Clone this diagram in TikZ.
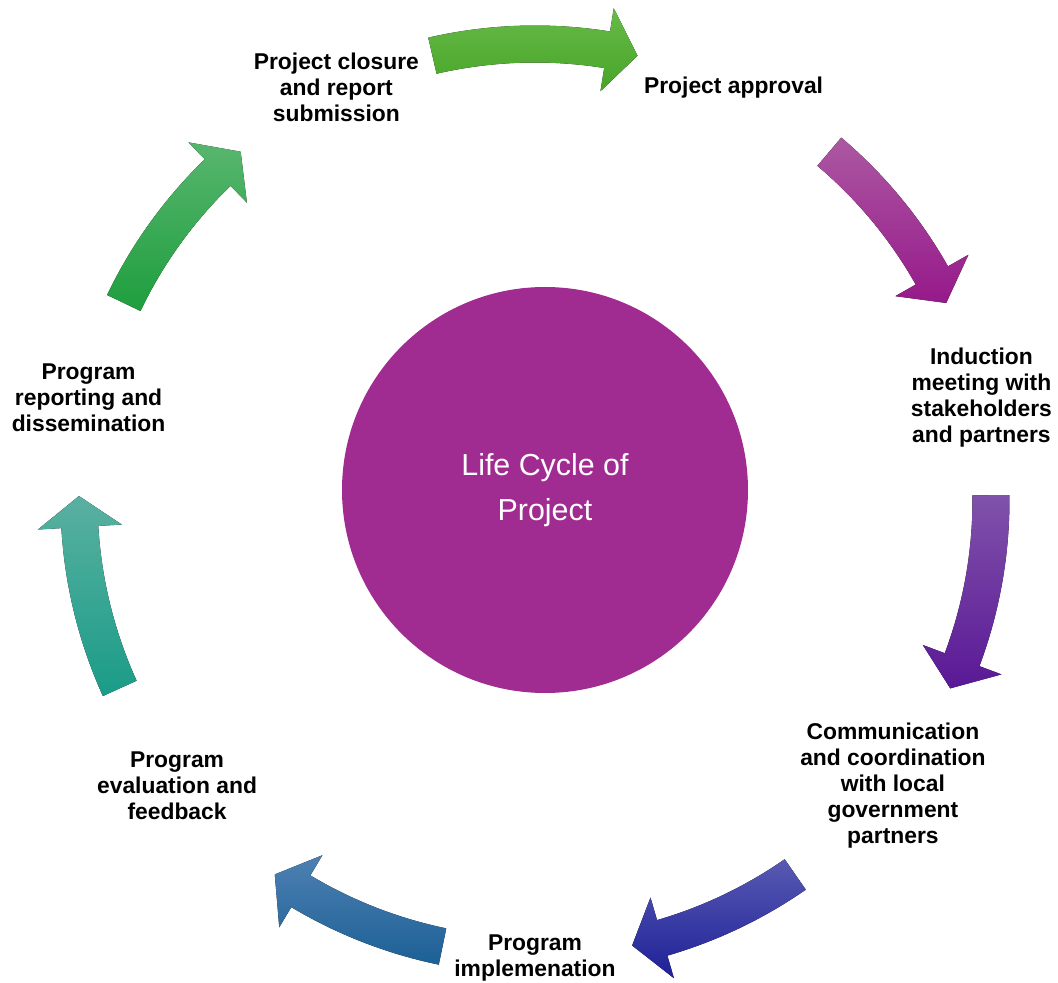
\documentclass[tikz,border=0pt]{standalone}
\usepackage{fontspec}
\setmainfont{Liberation Sans}
\usetikzlibrary{positioning}
\definecolor{corepurple}{RGB}{160,43,145}
\definecolor{greenA}{RGB}{104,186,72}
\definecolor{greenB}{RGB}{70,165,40}
\definecolor{magentaA}{RGB}{172,88,162}
\definecolor{magentaB}{RGB}{150,25,138}
\definecolor{violetA}{RGB}{128,82,170}
\definecolor{violetB}{RGB}{90,24,150}
\definecolor{navyA}{RGB}{88,90,178}
\definecolor{navyB}{RGB}{30,32,152}
\definecolor{blueA}{RGB}{78,128,178}
\definecolor{blueB}{RGB}{28,96,150}
\definecolor{tealA}{RGB}{90,176,160}
\definecolor{tealB}{RGB}{26,156,136}
\definecolor{leafA}{RGB}{88,182,110}
\definecolor{leafB}{RGB}{30,158,62}

\begin{document}
\begin{tikzpicture}[
  phase/.style={align=center, font=\fontsize{13}{14.8}\selectfont\bfseries},
  core/.style={circle, fill=corepurple, minimum size=8.12cm, inner sep=0pt,
    text=white, align=center, font=\fontsize{17.3}{26}\selectfont}
]
\useasboundingbox (-10.7,-9.66) rectangle (10.46,10.0);
% centre of the cycle
\node[core] (centre) at (0.2,0.2) {Life Cycle of\\Project};
% curved arrows round the ring: tail angle / tip angle / colours
\foreach \t/\h/\ct/\cb in {103/77/greenA/greenB, 49.8/25.6/magentaA/magentaB,
    0.6/-24.4/violetA/violetB, -55.2/-77.7/navyA/navyB,
    -101.7/-124.8/blueA/blueB, 204.4/179.5/tealA/tealB,
    154.4/130.2/leafA/leafB} {
  \fill[top color=\ct, bottom color=\cb]
    (\t:9.49) arc[start angle=\t, end angle=\h+3.9, radius=9.49]
    -- ({\h+3.9}:9.96) -- (\h:9.12) -- ({\h+3.9}:8.28)
    -- ({\h+3.9}:8.75) arc[start angle=\h+3.9, end angle=\t, radius=8.75]
    -- cycle;
}
% phases
\node[phase] (approval) at (64.3:9.16) {Project approval};
\node[phase] (induction) at (12.9:9.16) {Induction\\meeting with\\stakeholders\\and partners};
\node[phase] (coordination) at (-38.6:9.16) {Communication\\and coordination\\with local\\government\\partners};
\node[phase] (implementation) at (-90:9.16) {Program\\implemenation};
\node[phase] (evaluation) at (-141.4:9.16) {Program\\evaluation and\\feedback};
\node[phase] (reporting) at (167.1:9.16) {Program\\reporting and\\dissemination};
\node[phase] (closure) at (115.7:9.16) {Project closure\\and report\\submission};
\end{tikzpicture}
\end{document}
